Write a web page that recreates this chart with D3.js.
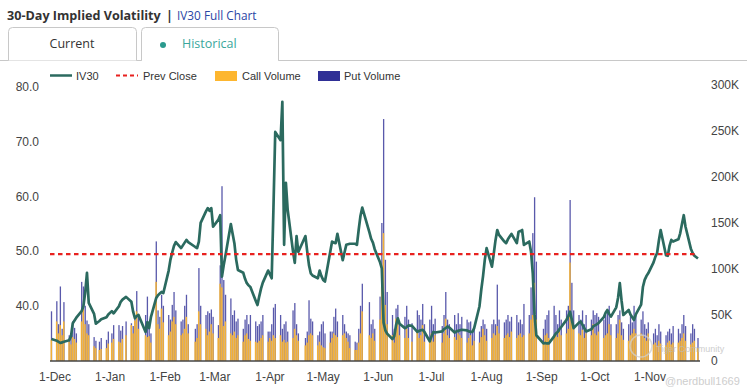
<!DOCTYPE html>
<html>
<head>
<meta charset="utf-8">
<script src="https://cdn.jsdelivr.net/npm/d3@7"></script>
<style>
  body { margin: 0; background: #fff; }
  svg { display: block; }
</style>
</head>
<body>
<svg id="chart" width="747" height="388"></svg>
<script>
// trading days: Nov 29 2024 .. Nov 28 2025, NYSE closed days skipped
var FIRST_DAY = "2024-11-29", LAST_DAY = "2025-11-28";
var HOLIDAYS = ["2024-12-25","2025-01-01","2025-01-09","2025-01-20","2025-02-17","2025-04-18",
                "2025-05-26","2025-06-19","2025-07-04","2025-09-01","2025-11-27"];

// IV30 (%), one per trading day
var iv30 = [
  34.0,
  33.7,33.5,33.3,33.4,33.5,  33.8,34.5,36.9,37.4,37.9,  39.1,40.0,42.5,46.1,40.6,  38.6,36.8,37.3,37.6,
  38.0,38.5,39.1,38.7,  40.0,40.8,41.2,41.7,  40.8,39.0,37.8,38.2,38.4,  35.3,37.1,36.0,38.0,
  41.5,42.0,42.3,42.6,42.4,  46.5,48.5,49.8,51.0,51.7,  50.6,51.1,51.6,52.1,51.7,  50.8,50.6,51.8,55.2,
  57.3,57.9,57.4,57.9,54.5,  55.8,56.6,45.4,47.5,49.3,  55.0,53.2,51.5,48.5,46.6,  46.1,45.0,44.2,43.8,43.5,
  41.0,40.2,41.8,43.2,44.3,  46.5,45.8,45.1,58.0,71.8,  70.3,77.3,51.2,62.5,57.6,  50.0,47.9,52.8,49.9,
  52.8,50.0,47.5,46.0,45.6,  45.1,46.5,45.5,44.8,44.5,  50.0,51.8,51.6,51.5,53.2,  48.4,49.8,51.2,51.3,51.4,
  51.4,51.2,54.0,56.5,58.0,  53.5,52.3,51.6,50.4,  48.0,46.9,37.0,35.6,35.0,  34.0,34.5,36.5,37.8,36.8,
  36.0,36.2,36.5,36.4,  35.3,35.5,35.6,35.7,35.3,  33.6,34.5,35.3,35.2,  35.4,35.8,36.0,36.3,36.1,
  35.2,35.4,35.5,35.6,35.7,  35.6,35.4,35.3,35.3,36.0,  40.0,43.0,45.5,48.5,50.6,  47.2,49.5,52.0,53.9,53.0,
  51.8,51.5,52.2,52.7,53.2,  51.5,53.6,53.7,53.9,51.2,  51.8,50.0,46.0,38.5,34.7,  33.2,33.3,33.2,33.2,
  34.5,35.0,35.3,35.8,36.2,  37.5,38.2,39.0,37.5,36.0,  37.0,37.2,36.6,36.0,35.4,  35.8,36.3,36.5,36.7,36.9,
  38.0,38.8,39.3,38.6,38.1,  39.8,41.5,44.2,41.0,38.4,  39.3,38.5,38.0,37.5,38.5,  40.3,43.5,44.8,45.5,46.0,
  48.0,49.0,49.7,52.0,53.9,  49.3,49.2,51.0,52.1,51.8,  52.2,53.3,55.0,56.6,54.5,  50.5,49.7,49.2,48.7
];

// call volume (thousands)
var callVol = [
  23,
  43,30,39,28,43,  21,18,26,24,20,  43,57,40,30,28,  16,14,12,13,
  14,19,20,24,  21,20,24,28,  39,30,44,54,35,  28,26,27,20,
  86,40,35,57,42,  28,32,43,48,40,  28,30,35,48,30,  21,25,54,40,
  35,28,32,40,30,  25,84,80,38,43,  30,28,32,25,28,  21,28,30,24,22,
  21,20,22,25,28,  21,25,22,28,25,  28,21,23,20,21,  25,35,28,22,
  17,20,28,30,28,  17,21,17,15,14,  20,25,30,28,26,  28,30,25,21,14,
  12,12,20,30,54,  28,25,30,22,  45,80,139,61,40,  28,20,46,43,28,
  25,35,25,21,  32,25,28,39,21,  25,30,21,28,  20,30,46,28,25,
  26,23,30,28,25,  20,25,28,17,22,  20,26,35,28,22,  25,30,28,38,30,
  25,28,30,26,32,  25,28,30,26,28,  30,45,50,85,45,  20,28,30,25,
  28,30,26,32,28,  30,35,107,45,35,  30,28,34,25,30,  28,40,30,28,32,
  25,28,30,40,28,  25,30,45,28,23,  22,28,30,35,30,  30,28,25,22,30,
  18,20,17,22,19,  17,20,22,18,20,  20,22,25,30,22,  18,20,22,14
];

// put volume (thousands)
var putVol = [
  54,
  65,40,81,35,64,  28,30,43,36,30,  86,81,60,44,40,  26,22,21,25,
  23,32,30,39,  39,33,38,43,  41,38,48,76,50,  50,70,43,30,
  130,55,48,72,60,  50,45,61,75,55,  43,45,60,72,40,  35,40,101,60,
  50,54,52,56,48,  39,104,190,88,72,  68,50,55,43,46,  35,45,50,40,50,
  43,38,40,43,50,  32,32,40,58,62,  50,35,40,43,32,  55,63,40,30,
  25,32,66,46,43,  28,32,40,43,30,  32,32,48,57,43,  50,40,32,30,28,
  21,20,35,60,84,  64,40,45,35,  70,150,263,110,75,  50,35,57,61,40,
  48,60,45,41,  55,50,45,62,40,  45,60,40,46,  38,50,75,45,40,
  50,40,52,40,48,  45,42,43,32,35,  32,38,45,40,35,  40,45,40,83,45,
  42,45,50,43,48,  50,42,45,40,62,  50,80,139,178,108,  35,45,50,55,
  60,50,40,55,45,  55,60,175,85,55,  50,45,55,40,50,  45,55,50,52,48,
  45,50,55,60,40,  40,50,55,42,35,  40,50,42,60,50,  45,54,40,35,42,
  30,35,28,40,32,  28,32,35,30,38,  35,30,40,50,38,  30,40,35,25
];

var PREV_CLOSE = 49.5;
var leftTicks = [40, 50, 60, 70, 80];
var rightTicks = [0, 50000, 100000, 150000, 200000, 250000, 300000];
var monthTicks = ["2024-12-01","2025-01-01","2025-02-01","2025-03-01","2025-04-01","2025-05-01",
                  "2025-06-01","2025-07-01","2025-08-01","2025-09-01","2025-10-01","2025-11-01"];

var IV_COLOR = "#2b6a5f", PREV_COLOR = "#e8211f", CALL_COLOR = "#fdb62f", PUT_COLOR = "#2f2f96";
var AXIS_FONT = "'Liberation Sans', Arial, sans-serif";

var parse = d3.utcParse("%Y-%m-%d"), fmt = d3.utcFormat("%Y-%m-%d");
var days = d3.utcDays(parse(FIRST_DAY), d3.utcDay.offset(parse(LAST_DAY), 1))
    .filter(function(d) { var w = d.getUTCDay(); return w > 0 && w < 6 && HOLIDAYS.indexOf(fmt(d)) < 0; });

var data = days.map(function(d, i) {
    return { date: d, iv: iv30[i], call: callVol[i] * 1000, put: putVol[i] * 1000 };
});

var svg = d3.select("#chart");

var x = d3.scaleUtc().domain([parse("2024-12-01"), parse("2025-11-01")]).range([55, 650]);
var yIv = d3.scaleLinear().domain([30, 80]).range([361, 87]);
var yVol = d3.scaleLinear().domain([0, 300000]).range([361, 85]);

// ---- header / tabs
svg.append("text").attr("x", 7).attr("y", 20)
    .style("font-family", "'Open Sans', sans-serif").style("font-size", "12.6px").style("font-weight", "bold")
    .style("fill", "#333").text("30-Day Implied Volatility");
svg.append("text").attr("x", 166).attr("y", 20)
    .style("font-family", "'Open Sans', sans-serif").style("font-size", "12.5px").style("font-weight", "bold")
    .style("fill", "#333").text("|");
svg.append("text").attr("x", 177).attr("y", 20)
    .style("font-family", "'Open Sans', sans-serif").style("font-size", "11.8px")
    .style("fill", "#2a45a5").text("IV30 Full Chart");

svg.append("line").attr("x1", 0).attr("x2", 747).attr("y1", 60.5).attr("y2", 60.5)
    .style("stroke", "#c8c8c8");
function tab(x0, x1, fill) {
    svg.append("path")
        .attr("d", "M" + x0 + ",60.5 V31.5 Q" + x0 + ",27.5 " + (x0 + 4) + ",27.5 H" + (x1 - 4) +
              " Q" + x1 + ",27.5 " + x1 + ",31.5 V60.5")
        .style("fill", fill).style("stroke", "#c8c8c8");
}
tab(8.5, 136.5, "#fff");
tab(141.5, 278.5, "#fff");
svg.append("line").attr("x1", 142).attr("x2", 278).attr("y1", 60.5).attr("y2", 60.5).style("stroke", "#fff").style("stroke-width", 1.5);
svg.append("text").attr("x", 72).attr("y", 48).attr("text-anchor", "middle")
    .style("font-family", "'Open Sans', sans-serif").style("font-size", "12.5px").style("fill", "#333").text("Current");
svg.append("circle").attr("cx", 163).attr("cy", 45).attr("r", 3).style("fill", "#2a9a8e");
svg.append("text").attr("x", 182).attr("y", 48)
    .style("font-family", "'Open Sans', sans-serif").style("font-size", "12.5px").style("fill", "#3aa79c").text("Historical");

// ---- legend
var lg = svg.append("g").style("font-family", AXIS_FONT).style("font-size", "11px").style("fill", "#333");
lg.append("line").attr("x1", 50).attr("x2", 72).attr("y1", 75.5).attr("y2", 75.5).style("stroke", IV_COLOR).style("stroke-width", 2.5);
lg.append("text").attr("x", 76).attr("y", 79.5).text("IV30");
lg.append("line").attr("x1", 116).attr("x2", 138).attr("y1", 75.5).attr("y2", 75.5)
    .style("stroke", PREV_COLOR).style("stroke-width", 2).style("stroke-dasharray", "4,3");
lg.append("text").attr("x", 143).attr("y", 79.5).text("Prev Close");
lg.append("rect").attr("x", 215).attr("y", 71).attr("width", 22).attr("height", 10).style("fill", CALL_COLOR);
lg.append("text").attr("x", 242).attr("y", 79.5).text("Call Volume");
lg.append("rect").attr("x", 318).attr("y", 71).attr("width", 22).attr("height", 10).style("fill", PUT_COLOR);
lg.append("text").attr("x", 344).attr("y", 79.5).text("Put Volume");

// ---- axes labels
var ax = svg.append("g").style("font-family", AXIS_FONT).style("font-size", "12px").style("fill", "#444");
ax.selectAll(".lt").data(leftTicks).enter().append("text")
    .attr("x", 39).attr("y", function(d) { return yIv(d) + 4; }).attr("text-anchor", "end")
    .text(function(d) { return d3.format(".1f")(d); });
ax.selectAll(".rt").data(rightTicks).enter().append("text")
    .attr("x", 711).attr("y", function(d) { return yVol(d) + 4; })
    .text(function(d) { return d === 0 ? "0" : (d / 1000) + "K"; });
ax.selectAll(".xt").data(monthTicks).enter().append("text")
    .attr("x", function(d) { return x(parse(d)); }).attr("y", 381).attr("text-anchor", "middle")
    .text(function(d) { return d3.utcFormat("%-d-%b")(parse(d)); });

// ---- volume bars (put behind, call in front)
var bars = svg.append("g");
bars.selectAll(".put").data(data).enter().append("rect")
    .attr("x", function(d) { return x(d.date) - 0.6; })
    .attr("width", 1.3)
    .attr("y", function(d) { return yVol(d.put); })
    .attr("height", function(d) { return yVol(0) - yVol(d.put); })
    .style("fill", PUT_COLOR).style("opacity", 0.8);
bars.selectAll(".call").data(data).enter().append("rect")
    .attr("x", function(d) { return x(d.date) - 0.9; })
    .attr("width", 1.5)
    .attr("y", function(d) { return yVol(d.call); })
    .attr("height", function(d) { return yVol(0) - yVol(d.call); })
    .style("fill", CALL_COLOR).style("opacity", 0.92);

// baseline
svg.append("line").attr("x1", 50).attr("x2", 700).attr("y1", 361).attr("y2", 361)
    .style("stroke", "#444").style("stroke-width", 1.6);

// ---- IV line
var line = d3.line().x(function(d) { return x(d.date); }).y(function(d) { return yIv(d.iv); });
svg.append("path").datum(data).attr("d", line)
    .style("fill", "none").style("stroke", IV_COLOR).style("stroke-width", 2.7).style("stroke-linejoin", "round");

// prev close
svg.append("line").attr("x1", 50).attr("x2", 697).attr("y1", yIv(PREV_CLOSE)).attr("y2", yIv(PREV_CLOSE))
    .style("stroke", PREV_COLOR).style("stroke-width", 2.2).style("stroke-dasharray", "4.5,3.5");

// ---- watermark (over the marks, faint)
var wm = svg.append("g").style("font-family", AXIS_FONT).style("fill", "#bdbdbd").style("opacity", 0.75);
wm.append("circle").attr("cx", 641).attr("cy", 346).attr("r", 11).style("fill", "none").style("stroke", "#cfcfcf").style("stroke-width", 1.5);
wm.append("text").attr("x", 656).attr("y", 352).style("font-size", "9px").text("Tiger Community");
wm.append("text").attr("x", 665).attr("y", 385).style("font-size", "11px").text("@nerdbull1669");
</script>
</body>
</html>
